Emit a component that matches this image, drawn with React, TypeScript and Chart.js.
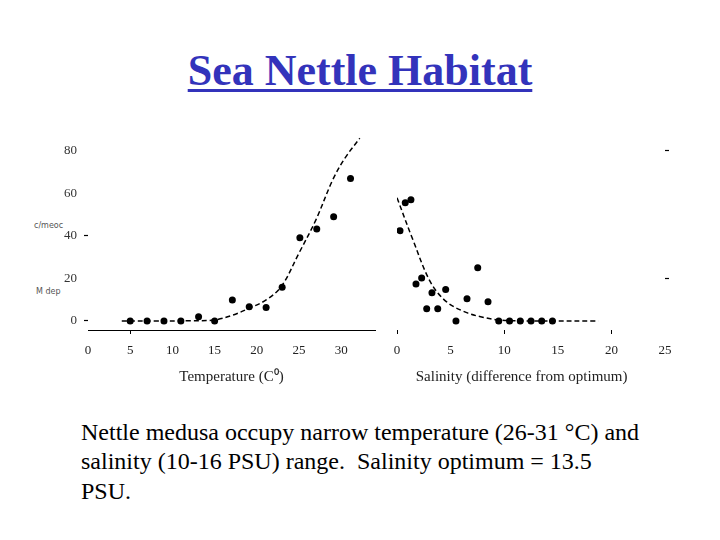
import React, { useEffect, useRef } from "react";
import { Chart, registerables } from "chart.js";

Chart.register(...registerables);

// ---- data ----
const tempObsX = [5, 7, 9, 11, 13.1, 15, 17.1, 19.1, 21.1, 23, 25.1, 27.1, 29.1, 31.1];
const tempObsY = [0, 0, 0, 0, 2, 0, 9.9, 6.7, 6.3, 15.9, 39.2, 43.3, 49.1, 67];
const tempFitX = [4, 8, 12, 15, 17.2, 19.1, 21.1, 22.9, 25, 27, 29, 30.5, 32.2];
const tempFitY = [0, 0, 0.1, 0.5, 2.8, 6, 9.9, 16.2, 32, 47.6, 66.5, 77, 86];

const salObsX = [0.28, 0.77, 1.3, 1.77, 2.3, 2.77, 3.26, 3.8, 4.54, 5.5, 6.53, 7.53, 8.49, 9.49, 10.5, 11.5, 12.5, 13.5, 14.5];
const salObsY = [42.5, 55.7, 57, 17.4, 20.2, 5.8, 13.3, 5.8, 14.8, 0, 10.4, 25.1, 9.1, 0, 0, 0, 0, 0, 0];
const salFitX = [0, 1.5, 3.1, 4.6, 6.5, 7.8, 9.3, 11, 14, 18.8];
const salFitY = [58, 38, 18.5, 9.1, 3.9, 2, 0.6, 0.1, 0, 0];

const yTicks = [0, 20, 40, 60, 80];
const tempTicks = [0, 5, 10, 15, 20, 25, 30];
const salTicks = [0, 5, 10, 15, 20, 25];

const tempTitle = "Temperature (C\u2070)";
const salTitle = "Salinity (difference from optimum)\u00a0\u00a0\u00a0\u00a0\u00a0";

const SERIF = "Liberation Serif";

function pts(xs: number[], ys: number[]) {
  return xs.map((x, i) => ({ x, y: ys[i] }));
}

function zeroPad(s: any) {
  s.paddingTop = 0;
  s.paddingBottom = 0;
  s.paddingLeft = 0;
  s.paddingRight = 0;
}

function makeConfig(kind: "temp" | "sal"): any {
  const isTemp = kind === "temp";
  const obs = isTemp ? pts(tempObsX, tempObsY) : pts(salObsX, salObsY);
  const fit = isTemp ? pts(tempFitX, tempFitY) : pts(salFitX, salFitY);
  const xTickVals = isTemp ? tempTicks : salTicks;
  const yMarked = isTemp ? [0, 40] : [20, 80];
  const xMarked = isTemp ? [5] : [0, 10, 20];
  return {
    type: "scatter",
    data: {
      datasets: [
        {
          data: fit,
          showLine: true,
          borderColor: "#000",
          borderWidth: 1.5,
          borderDash: [5, 3],
          pointRadius: 0,
          tension: 0.35,
          fill: false,
        },
        {
          data: obs,
          pointRadius: 3.5,
          pointBackgroundColor: "#000",
          pointBorderColor: "#000",
          pointBorderWidth: 0,
          showLine: false,
        },
      ],
    },
    options: {
      animation: false,
      responsive: false,
      maintainAspectRatio: false,
      events: [],
      layout: {
        padding: isTemp
          ? { left: 0, right: 5, top: 9.75, bottom: 4 }
          : { left: 17, right: 0, top: 9.75, bottom: 4 },
      },
      plugins: { legend: { display: false }, tooltip: { enabled: false } },
      scales: {
        x: {
          type: "linear",
          min: 0,
          max: isTemp ? 34 : 25,
          afterBuildTicks: (s: any) => {
            s.ticks = xTickVals.map((v) => ({ value: v }));
          },
          afterFit: (s: any) => {
            s.height = 56;
            zeroPad(s);
          },
          border: { display: isTemp, color: "#000", width: 1 },
          grid: {
            drawOnChartArea: false,
            drawTicks: true,
            tickLength: 4,
            tickWidth: 1,
            tickColor: (c: any) =>
              c.tick && xMarked.includes(c.tick.value) ? "#000" : "rgba(0,0,0,0)",
          },
          ticks: {
            padding: 9,
            color: "#222",
            font: { family: SERIF, size: 13 },
            maxRotation: 0,
            autoSkip: false,
          },
          title: {
            display: true,
            text: isTemp ? tempTitle : salTitle,
            color: "#222",
            font: { family: SERIF, size: 15 },
            padding: { top: 0, bottom: 0 },
          },
        },
        y: {
          type: "linear",
          position: isTemp ? "left" : "right",
          min: -4.25,
          max: 90,
          afterBuildTicks: (s: any) => {
            s.ticks = yTicks.map((v) => ({ value: v }));
          },
          afterFit: (s: any) => {
            s.width = isTemp ? 58 : 25;
            zeroPad(s);
          },
          border: { display: false },
          grid: {
            drawOnChartArea: false,
            drawTicks: true,
            tickLength: 4,
            tickWidth: 1.2,
            tickColor: (c: any) =>
              c.tick && yMarked.includes(c.tick.value) ? "#000" : "rgba(0,0,0,0)",
          },
          ticks: {
            display: isTemp,
            padding: 7,
            color: "#333",
            font: { family: SERIF, size: 13 },
          },
        },
      },
    },
  };
}

export default function App() {
  const leftRef = useRef<HTMLCanvasElement | null>(null);
  const rightRef = useRef<HTMLCanvasElement | null>(null);

  useEffect(() => {
    const charts: Chart[] = [];
    if (leftRef.current) charts.push(new Chart(leftRef.current, makeConfig("temp")));
    if (rightRef.current) charts.push(new Chart(rightRef.current, makeConfig("sal")));
    return () => charts.forEach((c) => c.destroy());
  }, []);

  return (
    <div
      style={{
        position: "fixed",
        left: 0,
        top: 0,
        width: 720,
        height: 540,
        background: "#fff",
        overflow: "hidden",
        fontFamily: SERIF,
      }}
    >
      <div
        style={{
          position: "absolute",
          left: 0,
          width: 720,
          top: 49,
          textAlign: "center",
          fontFamily: SERIF,
          fontSize: 44,
          lineHeight: "44px",
          fontWeight: "bold",
          color: "#3333bb",
          textDecoration: "underline",
          textDecorationThickness: "3px",
          textUnderlineOffset: "4px",
        }}
      >
        Sea Nettle Habitat
      </div>

      <div
        style={{
          position: "absolute",
          left: 34,
          top: 222,
          fontSize: 8,
          lineHeight: "8px",
          color: "#555",
          fontFamily: "DejaVu Sans",
        }}
      >
        c/meoc
      </div>
      <div
        style={{
          position: "absolute",
          left: 36,
          top: 288,
          fontSize: 8,
          lineHeight: "8px",
          color: "#555",
          fontFamily: "DejaVu Sans",
        }}
      >
        M dep
      </div>

      <canvas
        ref={leftRef}
        width={350}
        height={270}
        style={{ position: "absolute", left: 30, top: 120, width: 350, height: 270 }}
      />
      <canvas
        ref={rightRef}
        width={310}
        height={270}
        style={{ position: "absolute", left: 380, top: 120, width: 310, height: 270 }}
      />

      <div
        style={{
          position: "absolute",
          left: 81,
          top: 417.5,
          fontFamily: SERIF,
          fontSize: 24,
          lineHeight: "29.5px",
          color: "#000",
          whiteSpace: "nowrap",
        }}
      >
        Nettle medusa occupy narrow temperature (26-31 °C) and
        <br />
        salinity (10-16 PSU) range.&nbsp; Salinity optimum = 13.5
        <br />
        PSU.
      </div>
    </div>
  );
}
